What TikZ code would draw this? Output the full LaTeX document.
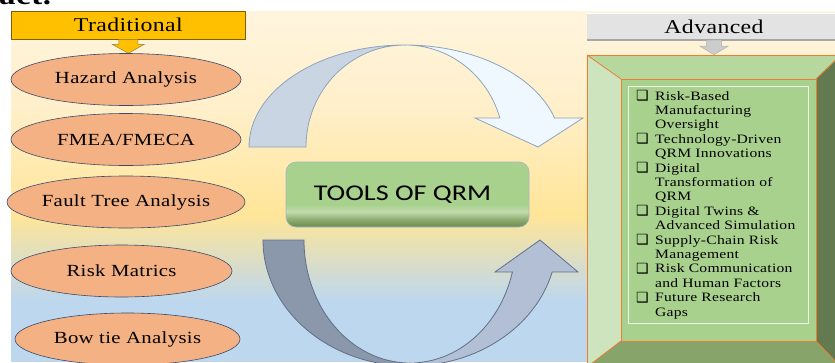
\documentclass[tikz,border=0pt]{standalone}
\usepackage{fontspec}
\setmainfont{Liberation Serif}[FakeStretch=1.22,LetterSpace=2]
\newfontfamily\dejavu{DejaVu Sans}
\newfontfamily\calib{Carlito}[FakeStretch=1.25]
\usetikzlibrary{shapes.geometric}
\definecolor{bgA}{HTML}{FFF5DE}
\definecolor{bgB}{HTML}{FFEFC9}
\definecolor{bgC}{HTML}{FFE598}
\definecolor{bgD}{HTML}{BDD7EE}
\definecolor{gold}{HTML}{FFC000}
\definecolor{golddark}{HTML}{7F6000}
\definecolor{salmon}{HTML}{F4B183}
\definecolor{navy}{HTML}{3B4A6B}
\definecolor{tkA}{HTML}{6A8A4E}
\definecolor{tkB}{HTML}{8EAE72}
\definecolor{tkC}{HTML}{C3DEB0}
\definecolor{tkD}{HTML}{A9D18E}
\definecolor{upback}{HTML}{C9D5E3}
\definecolor{upfront}{HTML}{EEF8FE}
\definecolor{upline}{HTML}{8EA3BE}
\definecolor{dnback}{HTML}{8B98AB}
\definecolor{dnfront}{HTML}{B3BFD4}
\definecolor{dnline}{HTML}{5F7088}
\definecolor{bvTop}{HTML}{B6D89E}
\definecolor{bvLeft}{HTML}{CDE4BE}
\definecolor{bvRight}{HTML}{637A50}
\definecolor{bvBottom}{HTML}{87A46B}
\definecolor{bvFace}{HTML}{A9D18E}
\definecolor{orangeline}{HTML}{ED7D31}
\definecolor{advgray}{HTML}{E3E3E3}
\pgfdeclareverticalshading{toolsh}{100bp}{color(0bp)=(tkA); color(25bp)=(tkA); color(31bp)=(tkB); color(37bp)=(tkC); color(42bp)=(tkD); color(75bp)=(tkD); color(100bp)=(tkD)}
\newcommand\cbx{\makebox[19pt][l]{\dejavu\fontsize{14}{14}\selectfont\raisebox{-0.5pt}{❑}}}
\newcommand\ind{\hspace*{19pt}}
\tikzset{
  oval/.style={ellipse, draw=navy, line width=0.6pt, fill=salmon, inner sep=0pt,
    minimum height=52pt, font=\fontsize{17}{20}\selectfont},
  hdrbox/.style={rectangle, inner sep=0pt, font=\fontsize{19.5}{22}\selectfont},
  blockarrow/.style={line width=0.5pt},
}
\begin{document}
\begin{tikzpicture}[x=1pt,y=-1pt]
\useasboundingbox (0,0) rectangle (835,362);
\begin{scope}
\clip (0,0) rectangle (835,362);
\fill[white] (0,0) rectangle (835,362);
% background gradient
\fill[top color=bgA, bottom color=bgB] (11,11) rectangle (835,110.5);
\fill[top color=bgB, bottom color=bgC] (11,110) rectangle (835,215.5);
\fill[top color=bgC, bottom color=bgD] (11,215) rectangle (835,300.5);
\fill[bgD] (11,300) rectangle (835,362);
% cut heading fragment
\node[anchor=base west, inner sep=0pt, font=\bfseries\fontsize{27}{27}\selectfont] (hdr) at (-1,4) {act.};

% top curved arrow
\draw[fill=upback, draw=upline, line width=0.8pt]
  (249,147) arc[start angle=180, end angle=270, x radius=156, y radius=102]
  arc[start angle=270, end angle=180, x radius=99, y radius=102] -- cycle;
\draw[fill=upfront, draw=upline, line width=0.8pt]
  (405,45) arc[start angle=270, end angle=343.5, x radius=156, y radius=102]
  -- (583,118) -- (538,147) -- (475,118) -- (499.9,118)
  arc[start angle=343.5, end angle=270, x radius=99, y radius=102] -- cycle;

% bottom curved arrow
\draw[fill=dnback, draw=dnline, line width=0.8pt]
  (263,240) arc[start angle=180, end angle=90, x radius=147, y radius=126]
  -- (410,363) arc[start angle=90, end angle=180, x radius=106, y radius=123] -- cycle;
\draw[fill=dnfront, draw=dnline, line width=0.8pt]
  (410,366) arc[start angle=90, end angle=14.7, x radius=147, y radius=126]
  -- (578,272) -- (540,240) -- (495,272) -- (512.4,272)
  arc[start angle=15.08, end angle=90, x radius=106, y radius=123] -- cycle;

% centre box
\node[rectangle, rounded corners=10pt, shading=toolsh, draw=upline!80, line width=0.6pt,
  minimum width=243pt, minimum height=65pt, inner sep=0pt,
  font=\calib\fontsize{22.5}{24}\selectfont] (tools) at (407.5,194.5) {\hspace*{-10pt}TOOLS OF QRM};

% Traditional column
\node[hdrbox, fill=gold, draw=golddark, line width=0.7pt, minimum width=233.5pt, minimum height=27.5pt]
  (trad) at (128.3,25.2) {Traditional};
\draw[blockarrow, fill=gold, draw=golddark!80, shift={(trad.south)}]
  (-9.5,0) -- (9.5,0) -- (9.5,5) -- (16,5) -- (0,14) -- (-16,5) -- (-9.5,5) -- cycle;

\node[oval, minimum width=230pt] (haz) at (126,79.5) {Hazard Analysis};
\node[oval, minimum width=230pt] (fmea) at (126,139.5) {FMEA/FMECA};
\node[oval, minimum width=230pt] (fta) at (126,202) {Fault Tree Analysis};
\node[oval, minimum width=221pt] (rm) at (121.5,271) {Risk Matrics};
\node[oval, minimum width=225pt] (bow) at (127.5,339) {Bow tie Analysis};

% Advanced column
\node[hdrbox, fill=advgray, minimum width=254pt, minimum height=27pt]
  (adv) at (714,26.5) {Advanced};
\draw[line width=1.5pt, draw=black!35] (adv.south west) -- (adv.south east);
\draw[line width=0.6pt, draw=white] (adv.north west) -- (adv.north east);
\draw[blockarrow, fill=black!20, draw=black!30, shift={(adv.south)}]
  (-7.5,0) -- (7.5,0) -- (7.5,6) -- (14,6) -- (0,14.5) -- (-14,6) -- (-7.5,6) -- cycle;

% bevel frame
\fill[bvTop] (587,55) -- (841,55) -- (816,79) -- (621,79) -- cycle;
\fill[bvLeft] (587,55) -- (621,79) -- (621,341) -- (587,367) -- cycle;
\fill[bvRight] (841,55) -- (841,367) -- (816,341) -- (816,79) -- cycle;
\fill[bvBottom] (587,367) -- (621,341) -- (816,341) -- (841,367) -- cycle;
\fill[bvFace] (621,79) rectangle (816,341);
\draw[orangeline, line width=0.8pt] (587,55) rectangle (841,367);
\draw[orangeline, line width=0.8pt] (621,79) rectangle (816,341);
\draw[orangeline, line width=0.8pt] (587,55) -- (621,79) (841,55) -- (816,79)
  (587,367) -- (621,341) (841,367) -- (816,341);
\draw[draw=white!80!bvFace, line width=0.9pt] (628,86) rectangle (808,323);

\node[anchor=base west, inner sep=0pt] (list) at (636,100) {\parbox[t]{170pt}{\fontsize{12.8}{14.4}\selectfont\baselineskip=14.4pt
\cbx Risk-Based\\
\ind Manufacturing\\
\ind Oversight\\
\cbx Technology-Driven\\
\ind QRM Innovations\\
\cbx Digital\\
\ind Transformation of\\
\ind QRM\\
\cbx Digital Twins \&\\
\ind Advanced Simulation\\
\cbx Supply-Chain Risk\\
\ind Management\\
\cbx Risk Communication\\
\ind and Human Factors\\
\cbx Future Research\\
\ind Gaps}};
\end{scope}
\end{tikzpicture}
\end{document}
